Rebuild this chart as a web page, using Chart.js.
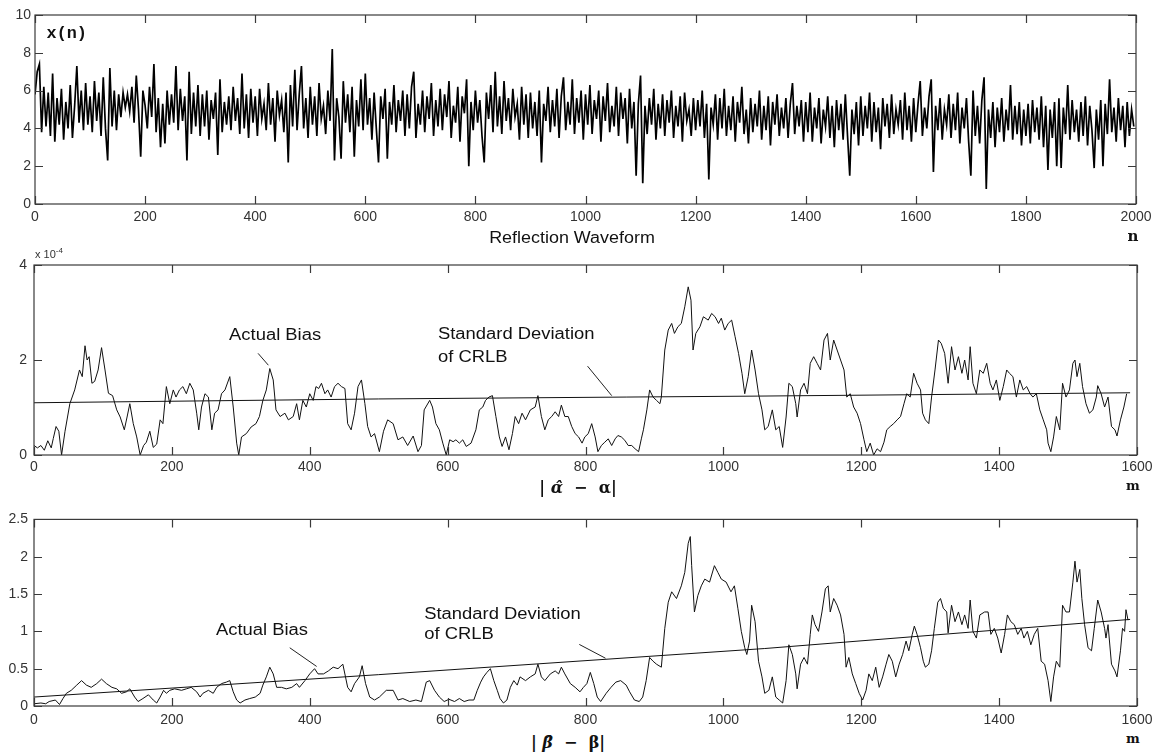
<!DOCTYPE html>
<html>
<head>
<meta charset="utf-8">
<script src="https://cdn.jsdelivr.net/npm/chart.js@4.4.1/dist/chart.umd.min.js"></script>
<style>
  body { margin: 0; background: #fff; width: 1160px; height: 755px; position: relative; overflow: hidden; font-family: "Liberation Sans", Arial, sans-serif; }
  canvas { position: absolute; left: 0; }
  .lbl { position: absolute; white-space: nowrap; color: #111; transform: translate(-50%, -50%); }
  .ser { font-family: "DejaVu Serif", "Liberation Serif", serif; font-weight: bold; }
</style>
</head>
<body>
<canvas id="wave" width="1160" height="226" style="top:0"></canvas>
<canvas id="alpha" width="1160" height="240" style="top:240px"></canvas>
<canvas id="beta" width="1160" height="225" style="top:505px"></canvas>

<div class="lbl" style="left:572px;top:238px;font-size:16px;transform:translate(-50%,-50%) scaleX(1.12)">Reflection Waveform</div>
<div class="lbl ser" style="left:1133px;top:236px;font-size:15px">n</div>
<div class="lbl" style="left:35px;top:253px;transform:translate(0,-50%);font-size:11px;color:#333">x 10<sup style="font-size:8px">-4</sup></div>
<div class="lbl ser" style="left:578px;top:487px;font-size:16px">|&nbsp;<i>α&#770;</i>&nbsp;&nbsp;−&nbsp;&nbsp;α|</div>
<div class="lbl ser" style="left:1133px;top:485px;font-size:13px">m</div>
<div class="lbl ser" style="left:568px;top:742px;font-size:16px">|&nbsp;<i>β&#770;</i>&nbsp;&nbsp;−&nbsp;&nbsp;β|</div>
<div class="lbl ser" style="left:1133px;top:738px;font-size:13px">m</div>

<script>
/* ---- datos ---- */

// x(n): una muestra cada 4 valores de n (0..1996)
const waveStep = 4;
const waveValues = [
  5.8,7.0,7.4,3.8,6.2,4.1,5.9,3.6,6.9,3.3,5.6,4.2,6.1,3.4,5.4,4.0,6.3,3.5,5.2,7.3,4.3,6.0,3.9,6.4,4.2,
  5.7,3.8,6.5,4.4,5.9,3.6,6.7,4.0,2.3,7.2,4.1,6.0,3.9,5.8,4.6,5.9,5.1,5.8,4.9,6.2,4.3,6.8,5.0,2.5,6.0,
  5.2,4.0,6.2,4.6,7.4,3.8,5.6,3.0,5.3,3.2,6.0,4.2,5.8,4.3,7.3,3.9,6.1,4.4,5.7,2.3,7.0,3.7,5.9,4.1,6.3,
  3.6,5.8,4.1,6.0,3.4,5.5,4.5,5.9,2.6,6.6,3.8,5.4,4.2,5.7,3.9,6.2,4.4,5.6,3.7,6.9,4.0,5.8,3.5,6.1,4.3,
  5.7,3.6,6.1,4.5,5.3,3.9,6.4,4.2,5.6,3.3,6.0,4.7,5.5,3.8,5.9,2.2,6.3,4.1,7.1,3.9,5.8,7.3,4.0,5.6,3.5,
  6.2,4.2,5.7,3.6,6.4,4.5,5.2,3.7,6.0,4.4,8.2,2.3,5.6,4.6,2.4,6.5,4.3,5.8,3.8,6.2,2.5,5.5,4.1,6.6,3.9,
  6.9,4.2,5.6,3.4,5.9,4.0,2.2,5.7,4.5,6.1,2.4,5.4,4.2,6.3,3.8,5.5,4.4,6.0,3.6,5.8,4.0,6.2,7.0,3.5,5.3,
  4.2,6.0,3.8,5.7,4.5,6.4,3.6,5.5,4.1,6.1,3.9,5.8,4.6,6.5,3.5,5.2,4.3,6.2,3.3,5.7,4.8,6.6,2.0,5.4,3.9,
  6.0,4.3,5.5,3.6,2.2,5.9,4.5,6.3,3.8,7.0,4.1,5.7,3.7,6.5,4.4,5.6,3.9,6.1,4.6,5.3,3.4,6.2,4.2,5.8,3.5,
  5.9,4.0,5.4,3.6,6.0,2.2,5.3,4.4,6.2,3.8,5.5,4.1,6.1,3.5,5.7,6.7,3.9,5.4,4.2,6.6,3.7,5.6,4.3,6.0,3.4,
  5.8,4.2,6.3,3.7,5.5,4.5,6.0,3.3,5.7,4.4,6.4,3.8,5.2,4.1,6.2,3.6,5.9,4.5,5.6,3.2,6.1,4.0,5.4,1.5,5.3,
  6.8,1.1,5.2,3.7,5.6,4.2,6.1,3.4,5.3,4.0,5.8,3.6,5.5,4.3,6.0,3.5,5.2,4.1,5.7,3.3,5.9,4.4,5.0,3.6,5.6,
  3.9,5.5,4.1,6.0,3.5,5.3,1.3,5.1,4.2,5.8,3.4,5.6,4.0,6.1,3.6,5.2,3.9,5.7,3.3,5.4,4.3,6.2,3.7,5.0,3.2,
  5.6,3.8,5.3,4.1,6.0,3.4,5.2,3.9,5.7,3.1,5.4,4.2,5.8,3.6,5.1,4.0,5.6,3.5,5.3,6.4,3.7,5.2,4.1,5.5,3.3,
  5.4,3.8,5.9,3.3,5.1,4.0,5.6,3.2,5.0,4.1,5.7,3.5,5.2,3.0,5.5,3.9,5.3,3.4,5.8,3.6,1.5,5.0,3.7,5.4,3.1,
  5.7,3.6,5.2,4.0,5.9,3.3,5.4,3.8,5.1,2.9,5.6,4.1,5.3,3.5,5.8,3.7,5.0,4.2,5.5,3.4,5.9,3.9,5.2,3.3,5.6,
  3.8,5.3,6.5,3.6,5.1,4.0,5.7,6.6,1.7,5.2,3.9,5.6,3.4,5.0,4.2,5.8,3.5,5.3,3.9,5.9,3.2,5.1,4.0,5.6,3.3,
  1.5,6.0,3.6,5.2,3.2,5.5,6.7,0.8,5.0,3.5,5.4,3.0,5.1,3.8,5.6,3.3,5.0,3.9,6.3,3.4,5.2,3.7,5.4,3.1,5.0,
  3.6,5.3,3.2,5.5,3.8,5.1,3.4,5.7,3.0,5.2,1.8,5.0,3.5,5.4,2.0,5.6,1.9,5.1,3.7,6.3,3.4,5.5,3.8,5.0,3.3,
  5.4,3.6,5.7,3.1,5.2,3.9,1.9,5.0,3.4,5.5,2.0,5.3,3.7,6.6,3.8,5.1,3.3,5.6,3.9,5.2,3.0,5.4,3.6,5.0,4.1
];
const waveXTicks = [0, 200, 400, 600, 800, 1000, 1200, 1400, 1600, 1800, 2000];
const waveYTicks = [0, 2, 4, 6, 8, 10];

// |alfa^ - alfa| en unidades de 1e-4, pares [m, valor]
const alphaBias = [
  [0,0.2],[5,0.15],[10,0.2],[15,0.1],[20,0.3],[25,0.15],[28,0.35],[32,0.6],[36,0.5],[40,0.0],
  [45,0.5],[52,1.08],[59,1.37],[66,1.79],[70,1.65],[74,2.3],[77,2.0],[80,2.07],[84,1.51],[88,1.55],
  [93,1.79],[98,2.26],[103,1.79],[108,1.3],[114,1.25],[120,0.95],[125,0.8],[131,0.53],[135,0.8],[139,1.08],
  [144,0.66],[149,0.38],[154,0.0],[159,0.2],[163,0.27],[168,0.5],[173,0.16],[178,0.23],[183,0.74],[187,0.66],
  [192,1.44],[197,1.08],[202,1.37],[206,1.22],[211,1.37],[216,1.44],[221,1.29],[226,1.51],[231,1.37],[236,0.88],
  [239,0.53],[243,1.01],[248,1.29],[253,1.22],[258,0.53],[262,0.88],[267,0.95],[272,1.29],[277,1.37],[284,1.65],
  [289,1.01],[294,0.25],[297,0.0],[301,0.38],[308,0.45],[315,0.59],[322,0.66],[327,0.81],[332,1.15],[337,1.37],
  [342,1.82],[347,1.58],[351,0.95],[357,0.81],[364,0.88],[369,0.74],[376,0.81],[381,1.08],[385,0.74],[390,1.15],
  [395,1.01],[400,1.29],[405,1.15],[409,1.44],[413,1.4],[417,1.51],[422,1.29],[426,1.37],[431,1.22],[436,1.44],
  [441,1.51],[446,1.44],[451,1.4],[455,0.66],[460,0.53],[465,0.88],[470,1.44],[475,1.58],[480,1.08],[484,0.6],
  [489,0.38],[494,0.45],[501,0.07],[507,0.5],[513,0.74],[521,0.66],[528,0.32],[535,0.38],[542,0.2],[550,0.4],
  [557,0.07],[562,0.2],[566,0.95],[574,1.15],[578,1.01],[583,0.66],[588,0.53],[593,0.25],[598,0.0],[603,0.32],
  [608,0.28],[612,0.32],[617,0.25],[622,0.32],[627,0.18],[634,0.25],[641,0.53],[646,0.95],[651,1.01],[655,1.15],
  [660,1.22],[665,1.25],[670,0.81],[675,0.38],[679,0.18],[684,0.38],[689,0.11],[694,0.45],[698,0.81],[703,0.66],
  [708,0.88],[713,0.74],[720,0.95],[727,1.01],[731,1.25],[736,0.81],[741,0.53],[746,0.74],[751,0.81],[756,0.91],
  [761,0.81],[765,1.05],[770,0.81],[775,0.81],[780,0.6],[785,0.45],[790,0.38],[795,0.25],[799,0.38],[804,0.45],
  [809,0.66],[814,0.38],[818,0.07],[823,0.2],[828,0.27],[833,0.34],[838,0.2],[843,0.34],[847,0.41],[852,0.38],
  [857,0.31],[862,0.2],[867,0.2],[872,0.13],[877,0.07],[881,0.34],[884,0.53],[889,0.95],[893,1.37],[898,1.22],
  [903,1.15],[908,1.08],[910,1.22],[915,2.21],[920,2.63],[925,2.77],[929,2.56],[934,2.7],[939,2.77],[944,3.12],
  [949,3.54],[953,3.26],[956,2.21],[960,2.56],[966,2.7],[971,2.91],[978,2.84],[983,2.98],[988,2.91],[993,2.77],
  [997,2.88],[1002,2.63],[1007,2.77],[1012,2.84],[1017,2.49],[1022,2.14],[1027,1.72],[1031,1.29],[1036,1.65],[1041,2.21],
  [1046,1.79],[1051,1.29],[1056,0.95],[1060,0.53],[1065,0.6],[1071,0.95],[1076,0.53],[1081,0.6],[1086,0.16],[1091,0.8],
  [1095,1.51],[1100,1.44],[1105,1.08],[1107,0.8],[1112,1.37],[1117,1.51],[1122,1.29],[1126,1.93],[1131,2.07],[1136,1.93],
  [1141,1.79],[1146,2.42],[1151,2.56],[1155,2.0],[1160,2.42],[1165,2.21],[1170,2.0],[1175,1.79],[1179,1.22],[1184,1.29],
  [1189,1.01],[1194,0.88],[1199,0.66],[1204,0.32],[1208,0.07],[1213,0.25],[1218,0.0],[1223,0.13],[1228,0.07],[1233,0.27],
  [1237,0.53],[1242,0.6],[1247,0.66],[1252,0.74],[1257,0.81],[1262,1.08],[1266,1.29],[1271,1.22],[1276,1.72],[1281,1.51],
  [1286,1.37],[1289,0.88],[1293,0.74],[1298,0.66],[1302,1.22],[1307,1.79],[1312,2.42],[1316,2.35],[1321,2.14],[1326,1.51],
  [1331,2.28],[1336,1.79],[1341,2.07],[1346,1.72],[1350,2.0],[1355,1.58],[1358,2.28],[1362,1.51],[1367,1.29],[1372,1.79],
  [1377,1.72],[1382,1.93],[1387,1.51],[1391,1.37],[1396,1.58],[1401,1.15],[1406,1.44],[1411,1.79],[1415,1.72],[1420,1.65],
  [1425,1.22],[1430,1.58],[1435,1.37],[1440,1.44],[1445,1.29],[1449,1.22],[1454,1.29],[1459,0.95],[1464,0.74],[1469,0.53],
  [1471,0.25],[1475,0.07],[1479,0.38],[1483,0.81],[1488,0.53],[1492,1.51],[1497,1.22],[1502,1.37],[1507,1.93],[1510,2.0],
  [1513,1.65],[1517,1.93],[1521,1.44],[1526,1.08],[1531,0.88],[1536,0.95],[1541,1.22],[1543,1.46],[1548,1.29],[1553,1.01],
  [1558,1.22],[1563,0.6],[1568,0.53],[1571,0.4],[1576,0.74],[1581,1.01],[1585,1.29]
];
// desviacion estandar CRLB para alfa (1e-4)
const crlbAlpha = [[0,1.10],[500,1.18],[860,1.22],[1050,1.24],[1590,1.31]];
const alphaYTicks = [0, 2, 4];

// |beta^ - beta|, pares [m, valor]
const betaBias = [
  [0,0.03],[10,0.04],[17,0.03],[22,0.06],[31,0.08],[37,0.02],[42,0.1],[47,0.17],[54,0.21],[62,0.28],
  [69,0.34],[76,0.28],[83,0.25],[91,0.3],[98,0.36],[105,0.3],[113,0.25],[120,0.23],[127,0.17],[134,0.19],
  [139,0.23],[146,0.12],[151,0.06],[158,0.1],[166,0.15],[173,0.08],[178,0.04],[183,0.12],[188,0.21],[192,0.17],
  [197,0.21],[204,0.23],[214,0.21],[221,0.23],[228,0.25],[236,0.19],[241,0.12],[245,0.17],[253,0.21],[260,0.17],
  [265,0.25],[272,0.3],[279,0.32],[284,0.34],[289,0.19],[294,0.08],[299,0.04],[306,0.08],[313,0.1],[321,0.12],
  [328,0.17],[332,0.28],[337,0.39],[342,0.52],[347,0.43],[352,0.25],[359,0.25],[366,0.23],[374,0.25],[381,0.3],
  [385,0.25],[393,0.34],[400,0.43],[407,0.5],[412,0.43],[420,0.43],[427,0.47],[434,0.52],[441,0.5],[448,0.56],
  [455,0.25],[460,0.19],[465,0.3],[472,0.39],[476,0.54],[481,0.3],[487,0.12],[494,0.08],[501,0.12],[511,0.21],
  [521,0.21],[528,0.08],[535,0.1],[545,0.06],[554,0.08],[562,0.06],[569,0.32],[574,0.34],[581,0.21],[588,0.12],
  [595,0.06],[602,0.09],[610,0.06],[617,0.1],[624,0.06],[631,0.08],[638,0.08],[643,0.21],[648,0.32],[652,0.39],
  [657,0.45],[662,0.5],[667,0.34],[672,0.21],[676,0.1],[681,0.04],[686,0.08],[691,0.25],[696,0.34],[701,0.28],
  [705,0.39],[713,0.34],[720,0.39],[727,0.43],[731,0.56],[736,0.39],[741,0.34],[749,0.43],[756,0.47],[761,0.43],
  [765,0.52],[770,0.43],[778,0.3],[785,0.25],[792,0.19],[797,0.25],[802,0.3],[807,0.45],[812,0.3],[817,0.12],
  [822,0.06],[830,0.17],[837,0.25],[844,0.32],[851,0.34],[859,0.28],[864,0.19],[871,0.08],[878,0.06],[883,0.12],
  [888,0.34],[893,0.65],[898,0.6],[903,0.56],[910,0.52],[915,1.04],[920,1.39],[925,1.53],[932,1.44],[939,1.61],
  [944,1.79],[949,2.18],[952,2.27],[954,1.88],[958,1.26],[963,1.48],[968,1.61],[973,1.7],[980,1.66],[987,1.88],
  [992,1.79],[997,1.7],[1004,1.66],[1011,1.53],[1016,1.61],[1021,1.31],[1026,1.0],[1031,0.78],[1034,0.69],[1038,0.87],
  [1041,1.35],[1046,1.13],[1051,0.6],[1056,0.39],[1060,0.17],[1066,0.21],[1071,0.39],[1076,0.12],[1081,0.08],[1086,0.04],
  [1091,0.34],[1095,0.82],[1100,0.69],[1105,0.43],[1107,0.23],[1112,0.56],[1117,0.65],[1122,0.56],[1126,0.96],[1129,1.22],
  [1133,1.09],[1138,1.0],[1143,1.26],[1148,1.57],[1152,1.61],[1155,1.26],[1160,1.44],[1165,1.35],[1170,1.22],[1175,0.96],
  [1178,0.52],[1182,0.65],[1187,0.43],[1192,0.3],[1197,0.17],[1202,0.08],[1207,0.21],[1211,0.43],[1216,0.34],[1221,0.52],
  [1226,0.25],[1231,0.39],[1236,0.56],[1240,0.69],[1245,0.6],[1250,0.39],[1255,0.56],[1260,0.69],[1265,0.87],[1269,0.74],
  [1274,0.96],[1277,1.07],[1281,0.96],[1286,0.78],[1290,0.6],[1293,0.52],[1298,0.56],[1302,0.74],[1306,1.04],[1311,1.39],
  [1315,1.44],[1319,1.31],[1324,1.26],[1326,0.98],[1331,1.35],[1336,1.13],[1341,1.26],[1346,1.09],[1350,1.22],[1355,1.04],
  [1358,1.42],[1362,1.0],[1367,0.91],[1372,1.22],[1379,1.26],[1384,1.26],[1388,0.96],[1393,1.04],[1398,0.91],[1403,0.71],
  [1408,0.96],[1412,1.22],[1417,1.13],[1422,1.09],[1427,0.96],[1432,1.04],[1436,0.91],[1441,1.0],[1446,0.82],[1451,0.96],
  [1456,1.04],[1461,0.6],[1466,0.56],[1471,0.34],[1475,0.06],[1479,0.39],[1483,0.6],[1488,0.52],[1492,1.35],[1497,1.26],
  [1502,1.26],[1507,1.66],[1510,1.94],[1513,1.66],[1517,1.83],[1520,1.44],[1524,1.09],[1529,0.78],[1534,0.74],[1538,1.04],
  [1543,1.42],[1548,1.26],[1553,1.04],[1555,0.91],[1558,1.09],[1563,0.56],[1568,0.47],[1571,0.39],[1576,0.74],[1579,1.04],
  [1582,1.0],[1584,1.29],[1587,1.15]
];
const crlbBeta = [[0,0.12],[500,0.42],[1060,0.77],[1590,1.16]];
const betaYTicks = [0, 0.5, 1, 1.5, 2, 2.5];
const mTicks = [0, 200, 400, 600, 800, 1000, 1200, 1400, 1600];

/* ---- plugins ---- */

// caja con marcas hacia adentro, estilo matlab
const frame = {
  id: 'frame',
  afterDraw(chart) {
    const { ctx, chartArea: a, scales: { x, y } } = chart;
    const tl = 8;
    ctx.save();
    ctx.strokeStyle = '#3a3a3a';
    ctx.lineWidth = 1.2;
    ctx.strokeRect(a.left, a.top, a.width, a.height);
    ctx.beginPath();
    x.ticks.forEach(t => {
      const px = Math.round(x.getPixelForValue(t.value)) + 0.5;
      ctx.moveTo(px, a.bottom); ctx.lineTo(px, a.bottom - tl);
      ctx.moveTo(px, a.top); ctx.lineTo(px, a.top + tl);
    });
    y.ticks.forEach(t => {
      const py = Math.round(y.getPixelForValue(t.value)) + 0.5;
      ctx.moveTo(a.left, py); ctx.lineTo(a.left + tl, py);
      ctx.moveTo(a.right, py); ctx.lineTo(a.right - tl, py);
    });
    ctx.stroke();
    ctx.restore();
  }
};

// textos y flechas de anotacion, en coordenadas de datos
const notes = {
  id: 'notes',
  afterDatasetsDraw(chart, args, opts) {
    const { ctx, scales: { x, y } } = chart;
    ctx.save();
    ctx.fillStyle = '#111';
    ctx.strokeStyle = '#222';
    ctx.lineWidth = 1;
    (opts.labels || []).forEach(l => {
      ctx.save();
      ctx.translate(x.getPixelForValue(l.at[0]), y.getPixelForValue(l.at[1]));
      ctx.scale(l.sx || 1, 1);
      ctx.font = l.font;
      ctx.textAlign = 'left';
      ctx.textBaseline = 'middle';
      ctx.fillText(l.text, 0, 0);
      ctx.restore();
    });
    (opts.pointers || []).forEach(p => {
      ctx.beginPath();
      ctx.moveTo(x.getPixelForValue(p[0][0]), y.getPixelForValue(p[0][1]));
      ctx.lineTo(x.getPixelForValue(p[1][0]), y.getPixelForValue(p[1][1]));
      ctx.stroke();
    });
    ctx.restore();
  }
};

const tickFont = { family: '"Liberation Sans", Arial, sans-serif', size: 14 };
const noteFont = '16px "Liberation Sans", Arial, sans-serif';

let makePanel = (id, cfg) => {
  return new Chart(document.getElementById(id), {
    type: 'line',
    data: { datasets: cfg.datasets },
    options: {
      responsive: false,
      animation: false,
      events: [],
      layout: { padding: cfg.pad },
      elements: { point: { radius: 0 }, line: { tension: 0 } },
      plugins: { legend: { display: false }, tooltip: { enabled: false }, notes: cfg.notes },
      scales: {
        x: {
          type: 'linear', min: cfg.xMax[0], max: cfg.xMax[1],
          afterBuildTicks: s => { s.ticks = cfg.xTicks.map(v => ({ value: v })); },
          afterFit: s => { s.height = cfg.xH; },
          grid: { display: false, drawTicks: false },
          border: { display: false },
          ticks: { padding: cfg.xPad, color: '#333', font: tickFont, maxRotation: 0, autoSkip: false, callback: v => String(v) }
        },
        y: {
          type: 'linear', min: cfg.yMax[0], max: cfg.yMax[1],
          afterBuildTicks: s => { s.ticks = cfg.yTicks.map(v => ({ value: v })); },
          afterFit: s => { s.width = cfg.yW; },
          grid: { display: false, drawTicks: false },
          border: { display: false },
          ticks: { padding: cfg.yPad, color: '#333', font: tickFont, callback: v => String(v) }
        }
      }
    },
    plugins: [frame, notes]
  });
};

const lineStyle = { borderColor: '#111', borderWidth: 1, fill: false };
const toXY = arr => arr.map(p => ({ x: p[0], y: p[1] }));

/* panel 1: forma de onda (trazo mas grueso para la banda densa) */
makePanel('wave', {
  datasets: [Object.assign({}, lineStyle, { data: waveValues.map((v, i) => ({ x: i * waveStep, y: v })), borderColor: '#000', borderWidth: 1.7 })],
  pad: { top: 15, right: 24, left: 0, bottom: 0 },
  xMax: [0, 2000], yMax: [0, 10], xTicks: waveXTicks, yTicks: waveYTicks,
  xH: 22, yW: 35, xPad: 5, yPad: 4,
  notes: { labels: [{ text: 'x(n)', at: [21, 8.97], font: 'bold 16px "Liberation Mono", monospace', sx: 1.05 }] }
});

/* panel 2: sesgo de alfa */
makePanel('alpha', {
  datasets: [
    Object.assign({ data: toXY(alphaBias) }, lineStyle),
    Object.assign({ data: toXY(crlbAlpha) }, lineStyle)
  ],
  pad: { top: 25, right: 23, left: 0, bottom: 0 },
  xMax: [0, 1600], yMax: [0, 4], xTicks: mTicks, yTicks: alphaYTicks,
  xH: 25, yW: 34, xPad: 4, yPad: 7,
  notes: {
    labels: [
      { text: 'Actual Bias', at: [283, 2.51], font: noteFont, sx: 1.15 },
      { text: 'Standard Deviation', at: [586, 2.54], font: noteFont, sx: 1.15 },
      { text: 'of CRLB', at: [586, 2.06], font: noteFont, sx: 1.15 }
    ],
    pointers: [[[325, 2.14], [340, 1.89]], [[803, 1.87], [838, 1.25]]]
  }
});

/* panel 3: sesgo de beta */
makePanel('beta', {
  datasets: [
    Object.assign({ data: toXY(betaBias) }, lineStyle),
    Object.assign({ data: toXY(crlbBeta) }, lineStyle)
  ],
  pad: { top: 11, right: 23, left: 0, bottom: 0 },
  xMax: [0, 1600], yMax: [0, 2.5], xTicks: mTicks, yTicks: betaYTicks,
  xH: 24, yW: 34, xPad: 6, yPad: 6,
  notes: {
    labels: [
      { text: 'Actual Bias', at: [264, 1.01], font: noteFont, sx: 1.15 },
      { text: 'Standard Deviation', at: [566, 1.23], font: noteFont, sx: 1.15 },
      { text: 'of CRLB', at: [566, 0.95], font: noteFont, sx: 1.15 }
    ],
    pointers: [[[371, 0.78], [410, 0.53]], [[791, 0.825], [829, 0.64]]]
  }
});
</script>
</body>
</html>
